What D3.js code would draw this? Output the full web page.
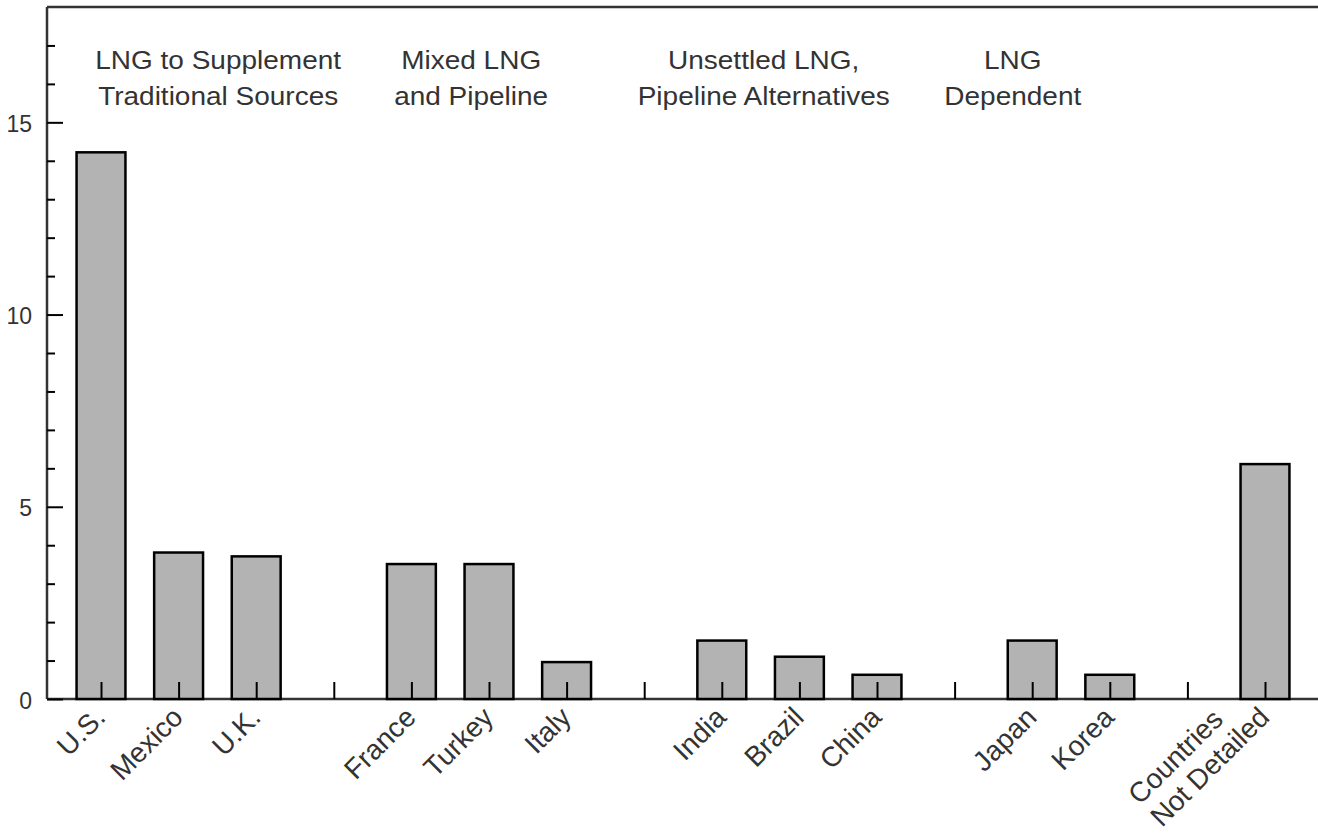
<!DOCTYPE html>
<html>
<head>
<meta charset="utf-8">
<script src="https://cdn.jsdelivr.net/npm/d3@7"></script>
<style>
  html, body { margin: 0; padding: 0; background: #fff; }
  svg { display: block; }
  text { font-family: "Liberation Sans", Arial, Helvetica, sans-serif; fill: #333; }
</style>
</head>
<body>
<svg id="chart" width="1318" height="838"></svg>
<script>
// ---------------- data ----------------
const categories = ["U.S.", "Mexico", "U.K.", "", "France", "Turkey", "Italy", "",
                    "India", "Brazil", "China", "", "Japan", "Korea", "", "Countries\nNot Detailed"];
const values = [14.22, 3.81, 3.71, null, 3.51, 3.51, 0.96, null,
                1.52, 1.10, 0.63, null, 1.52, 0.63, null, 6.11];
const groupLabels = [
  ["LNG to Supplement", "Traditional Sources"],
  ["Mixed LNG", "and Pipeline"],
  ["Unsettled LNG,", "Pipeline Alternatives"],
  ["LNG", "Dependent"]
];
const yMajorTicks = [0, 5, 10, 15];
const yMinorTicks = [1, 2, 3, 4, 6, 7, 8, 9, 11, 12, 13, 14, 16, 17];

// ---------------- layout ----------------
const M = { left: 47, right: 1318, top: 7, bottom: 699 };
const groupSlot = [1.51, 4.77, 8.54, 11.75];
const xFont = 28;

const svg = d3.select("#chart");

const x = d3.scalePoint()
  .domain(d3.range(categories.length))
  .range([101, 1265]);
const barW = x.step() * 0.63;

const y = d3.scaleLinear().domain([0, 18]).range([M.bottom, M.top]);

// top border
svg.append("line")
  .attr("x1", M.left).attr("x2", M.right).attr("y1", M.top).attr("y2", M.top)
  .attr("stroke", "#333").attr("stroke-width", 2.5);

// x baseline
svg.append("line")
  .attr("x1", M.left).attr("x2", M.right).attr("y1", M.bottom).attr("y2", M.bottom)
  .attr("stroke", "#333").attr("stroke-width", 2.5);

// y axis line
svg.append("line")
  .attr("x1", M.left).attr("x2", M.left).attr("y1", M.top).attr("y2", M.bottom)
  .attr("stroke", "#333").attr("stroke-width", 2.5);

// y major ticks (inward)
const yMajor = svg.append("g").attr("transform", `translate(${M.left},0)`)
  .call(d3.axisRight(y).tickValues(yMajorTicks).tickSize(16).tickFormat(""));
yMajor.select(".domain").remove();
yMajor.selectAll("line").attr("stroke", "#000").attr("stroke-width", 2);

// y minor ticks
const yMinor = svg.append("g").attr("transform", `translate(${M.left},0)`)
  .call(d3.axisRight(y).tickValues(yMinorTicks).tickSize(8).tickFormat(""));
yMinor.select(".domain").remove();
yMinor.selectAll("line").attr("stroke", "#000").attr("stroke-width", 2);

// y labels
const yLab = svg.append("g").attr("transform", `translate(${M.left},0)`)
  .call(d3.axisLeft(y).tickValues(yMajorTicks).tickSize(0).tickPadding(15).tickFormat(d3.format("d")));
yLab.select(".domain").remove();
yLab.selectAll("text")
  .attr("font-size", 23)
  .attr("font-family", "Liberation Sans, Arial, sans-serif")
  .attr("fill", "#333")
  .attr("dy", "0.4em");

// bars
const barData = values.map((v, i) => ({ i, v })).filter(d => d.v != null);
svg.append("g").selectAll("rect")
  .data(barData)
  .join("rect")
  .attr("x", d => x(d.i) - barW / 2)
  .attr("width", barW)
  .attr("y", d => y(d.v))
  .attr("height", d => y(0) - y(d.v))
  .attr("fill", "#b3b3b3")
  .attr("stroke", "#000")
  .attr("stroke-width", 2.5);

// x ticks (inward, drawn over bars)
const xAx = svg.append("g").attr("transform", `translate(0,${M.bottom})`)
  .call(d3.axisTop(x).tickSize(17).tickFormat(""));
xAx.select(".domain").remove();
xAx.selectAll("line").attr("stroke", "#000").attr("stroke-width", 2);

// x labels rotated
const xLabG = svg.append("g");
categories.forEach((c, i) => {
  if (!c) return;
  const lines = c.split("\n");
  const g = xLabG.append("g")
    .attr("transform", `translate(${x(i) + 6},${M.bottom + 20}) rotate(-45)`);
  const t = g.append("text").attr("font-size", xFont);
  lines.forEach((ln, k) => {
    t.append("tspan").text(ln)
      .attr("x", 0)
      .attr("dy", k === 0 ? 0 : "1.12em");
  });
  const maxW = d3.max(t.selectAll("tspan").nodes(), n => n.getComputedTextLength());
  const shift = (lines.length - 1) * xFont * 1.12;
  t.selectAll("tspan").attr("x", -maxW);
  t.attr("y", -shift);
});

// group labels
groupLabels.forEach((lines, k) => {
  const cx = x(0) + groupSlot[k] * x.step();
  const g = svg.append("g").attr("transform", `translate(${cx},0) scale(1.12,1)`);
  lines.forEach((ln, j) => {
    g.append("text")
      .attr("x", 0)
      .attr("y", 69 + j * 36)
      .attr("text-anchor", "middle")
      .attr("font-size", 25)
      .text(ln);
  });
});
</script>
</body>
</html>
